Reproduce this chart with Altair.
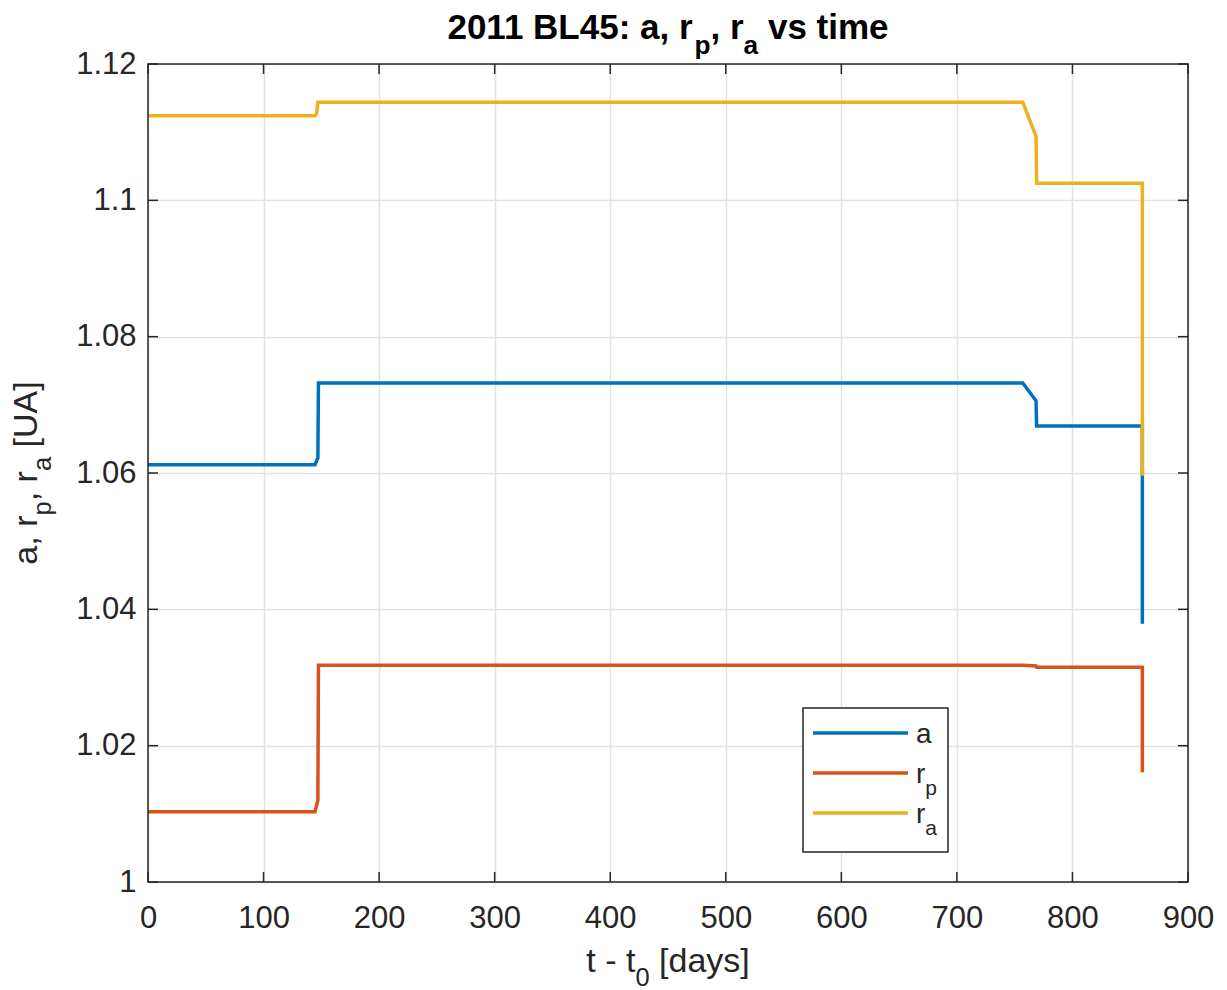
import altair as alt
import pandas as pd

FONT = "Liberation Sans"
AXC = "#262626"

# ---- data ----
SERIES = ["a", "rp", "ra"]
COLORS = ["#0072BD", "#D95319", "#EDB120"]

t_a = [0, 144.5, 147, 147.5, 757, 768.5, 769, 860.5, 860.5]
v_a = [1.0612, 1.0612, 1.0622, 1.0732, 1.0732, 1.0706, 1.0669, 1.0669, 1.0379]

t_rp = [0, 144.5, 147, 147.5, 757, 768.5, 769, 860.5, 860.5]
v_rp = [1.0103, 1.0103, 1.0120, 1.0318, 1.0318, 1.0317, 1.0315, 1.0315, 1.0161]

t_ra = [0, 144.5, 146, 147, 757, 768.5, 769, 860.5, 860.5]
v_ra = [1.1124, 1.1124, 1.1128, 1.1144, 1.1144, 1.1094, 1.1025, 1.1025, 1.0596]

X_TICKS = [0, 100, 200, 300, 400, 500, 600, 700, 800, 900]
Y_TICKS = [1.0, 1.02, 1.04, 1.06, 1.08, 1.1, 1.12]

W, H = 1040, 818

rows = []
for name, ts, vs in [("a", t_a, v_a), ("rp", t_rp, v_rp), ("ra", t_ra, v_ra)]:
    for i, (t, v) in enumerate(zip(ts, vs)):
        rows.append({"series": name, "t": t, "v": v, "idx": i})
df = pd.DataFrame(rows)

xscale = alt.Scale(domain=[0, 900], nice=False, zero=False)
yscale = alt.Scale(domain=[1.0, 1.12], nice=False, zero=False)

x_axis = alt.Axis(values=X_TICKS, title=None, labelFontSize=31, labelFont=FONT,
                  labelColor=AXC, domain=False, ticks=False, tickSize=0,
                  labelPadding=21, grid=True, gridColor="#e2e2e2", gridWidth=1.5,
                  labelFlush=False, format="d")
y_axis = alt.Axis(values=Y_TICKS, title=None, labelFontSize=31, labelFont=FONT,
                  labelColor=AXC, domain=False, ticks=False, tickSize=0,
                  labelPadding=12, grid=True, gridColor="#e2e2e2", gridWidth=1.5,
                  labelFlush=False, format="~g")

# inward tick marks (MATLAB style), positioned by the scales
dfx = pd.DataFrame({"tick": X_TICKS})
dfy = pd.DataFrame({"tick": Y_TICKS})
tick_style = dict(color=AXC, strokeWidth=1.5)
xt_bottom = alt.Chart(dfx).mark_rule(**tick_style).encode(
    x=alt.X("tick:Q", scale=xscale, axis=x_axis), y=alt.value(H), y2=alt.value(H - 10))
xt_top = alt.Chart(dfx).mark_rule(**tick_style).encode(
    x=alt.X("tick:Q", scale=xscale, axis=x_axis), y=alt.value(0), y2=alt.value(10))
yt_left = alt.Chart(dfy).mark_rule(**tick_style).encode(
    y=alt.Y("tick:Q", scale=yscale, axis=y_axis), x=alt.value(0), x2=alt.value(10))
yt_right = alt.Chart(dfy).mark_rule(**tick_style).encode(
    y=alt.Y("tick:Q", scale=yscale, axis=y_axis), x=alt.value(W), x2=alt.value(W - 10))

lines = alt.Chart(df).mark_line(strokeWidth=3.5).encode(
    x=alt.X("t:Q", scale=xscale, axis=x_axis),
    y=alt.Y("v:Q", scale=yscale, axis=y_axis),
    color=alt.Color("series:N", scale=alt.Scale(domain=SERIES, range=COLORS), legend=None),
    order="idx:Q",
)

one = pd.DataFrame({"k": [0]})
frame = alt.Chart(one).mark_rect(fillOpacity=0, stroke=AXC, strokeWidth=1.5).encode(
    x=alt.value(0), x2=alt.value(W), y=alt.value(0), y2=alt.value(H))

# ---- rich text helper (subscripts) ----
REG = {' ': 278, ',': 278, '-': 333, '.': 278, ':': 278, '[': 278, ']': 278,
       'A': 667, 'B': 667, 'L': 556, 'U': 722, 'a': 556, 'd': 556, 'e': 556,
       'i': 222, 'm': 833, 'p': 556, 'r': 333, 's': 500, 't': 278, 'v': 500, 'y': 500}
BOLD = {' ': 278, ',': 278, ':': 333, 'B': 722, 'L': 611, 'a': 556, 'e': 556,
        'i': 278, 'm': 889, 'p': 611, 'r': 389, 's': 556, 't': 333, 'v': 556}


def text_width(s, size, bold):
    tbl = BOLD if bold else REG
    return sum((556 if ch.isdigit() else tbl.get(ch, 556)) for ch in s) * size / 1000.0


def rich_text(segments, size, x, y, bold=False, angle=0, color=AXC, center=True,
              sub_ratio=0.75, sub_shift=0.42):
    widths = []
    for txt, sub in segments:
        fs = size * sub_ratio if sub else size
        widths.append(text_width(txt, fs, bold))
    start = -sum(widths) / 2 if center else 0
    layers = []
    cum = 0.0
    for (txt, sub), w in zip(segments, widths):
        fs = size * sub_ratio if sub else size
        stripped = txt.lstrip(" ")
        lead = text_width(txt[: len(txt) - len(stripped)], fs, bold)
        kw = dict(align="left", baseline="alphabetic", font=FONT, fontSize=fs,
                  fontWeight="bold" if bold else "normal", color=color,
                  dx=start + cum + lead, dy=size * sub_shift if sub else 0)
        if angle:
            kw["angle"] = angle
        layers.append(
            alt.Chart(pd.DataFrame({"label": [stripped]})).mark_text(**kw).encode(
                x=alt.value(x), y=alt.value(y), text="label:N"))
        cum += w
    return layers


title_layers = rich_text([("2011 BL45: a, r", False), ("p", True), (", r", False),
                          ("a", True), (" vs time", False)],
                         35, W / 2, -25, bold=True, color="#000000")
xtitle_layers = rich_text([("t - t", False), ("0", True), (" [days]", False)],
                          34, W / 2, 908)
ytitle_layers = rich_text([("a, r", False), ("p", True), (", r", False), ("a", True),
                           (" [UA]", False)], 34, -111, H / 2, angle=270)

# ---- legend (boxed, lower middle) ----
LEG_L, LEG_R, LEG_T, LEG_B = 655, 800, 644, 788
legend_box = alt.Chart(one).mark_rect(fill="white", stroke=AXC, strokeWidth=1.5).encode(
    x=alt.value(LEG_L), x2=alt.value(LEG_R), y=alt.value(LEG_T), y2=alt.value(LEG_B))
legend_layers = [legend_box]
leg_labels = [[("a", False)], [("r", False), ("p", True)], [("r", False), ("a", True)]]
for i, (name, col) in enumerate(zip(SERIES, COLORS)):
    ly = 669 + 40 * i
    legend_layers.append(
        alt.Chart(one).mark_rule(color=col, strokeWidth=3.5).encode(
            x=alt.value(665), x2=alt.value(760), y=alt.value(ly)))
    legend_layers += rich_text(leg_labels[i], 28, 768, ly + 10, center=False)

chart = alt.layer(
    lines, xt_bottom, xt_top, yt_left, yt_right, frame,
    *legend_layers, *title_layers, *xtitle_layers, *ytitle_layers,
).properties(
    width=W, height=H,
    padding={"left": 148, "top": 64, "right": 39, "bottom": 108},
    autosize=alt.AutoSizeParams(type="none"),
    background="white",
).configure_view(stroke=None)

chart.save("out.html", embed_options={"renderer": "svg", "actions": False})
